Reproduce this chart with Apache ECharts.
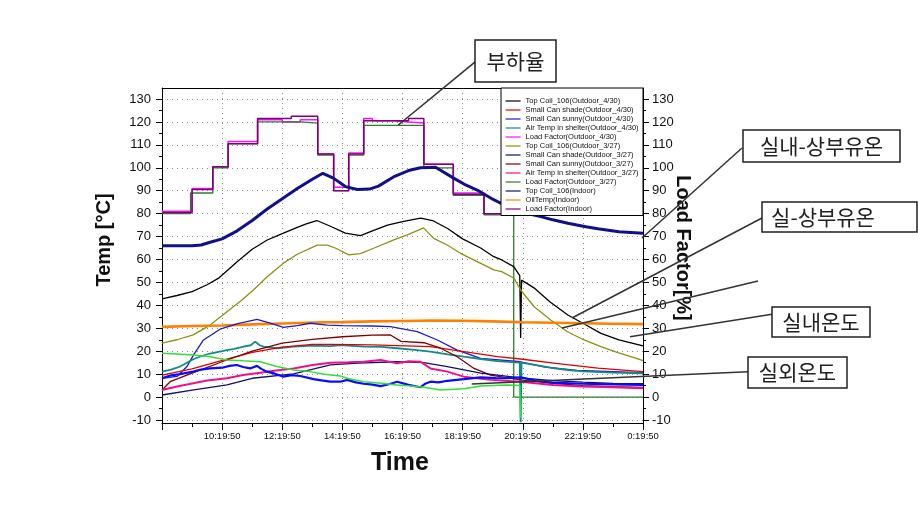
<!DOCTYPE html>
<html>
<head>
<meta charset="utf-8">
<script src="https://cdn.jsdelivr.net/npm/echarts@6/dist/echarts.min.js"></script>
<style>html,body{margin:0;padding:0;background:#fff;}#c{width:918px;height:531px;}</style>
</head>
<body>
<div id="c"></div>
<script>
// ---- data: [hour after 8:19:50, value] ----
const xTickHours = [0, 2, 4, 6, 8, 10, 12, 14, 16];
const legendNames = [
  'Top Coil_106(Outdoor_4/30)', 'Small Can shade(Outdoor_4/30)', 'Small Can sunny(Outdoor_4/30)',
  'Air Temp in shelter(Outdoor_4/30)', 'Load Factor(Outdoor_4/30)', 'Top Coil_106(Outdoor_3/27)',
  'Small Can shade(Outdoor_3/27)', 'Small Can sunny(Outdoor_3/27)', 'Air Temp in shelter(Outdoor_3/27)',
  'Load Factor(Outdoor_3/27)', 'Top Coil_106(Indoor)', 'OilTemp(Indoor)', 'Load Factor(Indoor)'
];
const loadFactor430 = [[0,81],[1.0,91],[1.69,100.5],[2.2,111.5],[3.18,121],[4.0,120],[4.6,121],[5.18,106],[5.71,91.5],[6.21,106.5],[6.71,121.5],[7.0,120.5],[7.7,120],[8.2,119.5],[8.71,101.5],[9.69,89],[10.71,80],[11.6,80]];
const loadFactor327 = [[0,80],[0.95,89],[1.69,100],[2.2,110.5],[3.18,120],[4.6,119.5],[5.18,105.5],[5.71,90],[6.21,105.5],[6.71,118.5],[8.71,100],[9.69,88],[10.71,79.5],[11.7,0],[16,0]];
const loadFactorIndoor = [[0,80.5],[1.0,90.5],[1.69,100.5],[2.2,110.5],[3.18,121.5],[4.3,122.5],[5.18,106],[5.71,90],[6.21,106],[6.71,120.5],[8.2,121.5],[8.71,101.5],[9.69,88.5],[10.71,80],[11.6,80]];
const topCoilIndoor = [[0,66],[0.5,66],[1,66],[1.3,66.3],[1.6,67.5],[2,69],[2.5,72.5],[3,77],[3.5,82],[4,86.5],[4.5,91],[5,95],[5.35,97.6],[5.7,95.5],[6.1,91.8],[6.5,90.5],[6.9,90.7],[7.2,92],[7.7,96],[8.2,98.8],[8.6,100],[9.1,100.2],[9.7,95.5],[10.1,92.5],[10.5,90.2],[11,86.3],[11.5,83],[12,80.5],[12.6,78.7],[13,77.3],[13.5,75.8],[14.1,74.3],[14.5,73.4],[15.2,72.1],[15.6,71.8],[16,71.4]];
const topCoil430 = [[0,42.8],[0.5,44.3],[1,46],[1.5,49],[1.9,52],[2.5,59],[3,64.5],[3.5,68.5],[4,71.3],[4.5,74],[4.8,75.5],[5.15,77],[5.6,74.5],[6.1,71.5],[6.6,70.4],[7,72.5],[7.5,75],[8,76.5],[8.6,78],[9,77],[9.5,73.5],[10,69],[10.6,65],[11,61.5],[11.3,59.8],[11.7,56.9],[11.9,53],[11.93,25.8],[11.96,51],[12.4,47.4],[12.9,41.6],[13.5,35.8],[14,32.2],[14.6,27.8],[15.2,24.9],[15.6,23.6],[16,22.3]];
const topCoil327 = [[0,23.5],[0.5,25],[1.04,27.1],[1.6,31.4],[2.16,37.2],[2.66,42.3],[3.04,46.7],[3.5,52.5],[4.04,58.4],[4.5,62.3],[5.16,66.3],[5.5,66.3],[5.8,64.8],[6.21,62],[6.6,62.6],[7.04,64.9],[7.71,68.6],[8.2,71],[8.7,73.8],[9.04,69.2],[9.5,66.2],[9.93,62.7],[10.5,59],[11.04,55.5],[11.3,54.7],[11.71,51.8],[11.93,46.7],[12.38,39.4],[12.93,33.6],[13.49,28.5],[14.04,24.9],[14.6,22],[15.16,19.4],[15.6,17.6],[16,15.9]];
const oilTempIndoor = [[0,30.6],[1,31],[2,31.2],[3,31.7],[4,32.1],[5,32.5],[6,32.7],[7,33],[8,33.2],[9,33.4],[10,33.3],[11,33],[12,32.6],[13,32.4],[14,32.2],[15,32],[16,31.8]];
const smallCanSunny430 = [[0,8.2],[0.5,9],[0.83,13.3],[1.05,18.4],[1.38,24.9],[1.93,29.6],[2.49,31.9],[3.16,33.9],[3.6,32.2],[4.04,30.4],[4.5,31.2],[4.93,32.2],[5.5,31.4],[6,31.2],[7,31],[7.6,30.7],[8.49,28.5],[9.16,24.9],[9.82,20.5],[10.6,16.9],[11.93,15.4],[12.7,13.2],[13.8,11.6],[16,10.6]];
const airTemp430 = [[0,11.1],[0.3,12],[0.6,13.3],[1.04,16.5],[1.3,17.8],[1.6,19],[2.16,20.5],[2.4,21],[2.71,22],[2.95,22.6],[3.1,24.2],[3.25,22.6],[3.38,22],[3.82,21.3],[4.38,22],[5,22.4],[5.6,22.2],[5.93,22.7],[6.71,22],[7.3,21.9],[7.82,21.3],[8.4,20.6],[8.93,19.8],[9.5,18.6],[10.04,17.6],[10.6,16.6],[11.16,15.7],[11.9,15],[11.93,-11],[11.96,15],[12.5,13.8],[13,12.6],[13.5,11.8],[14,11.2],[15,10.7],[16,10.4]];
const smallCanShade430 = [[0,9.6],[1,12.3],[2,16],[3,19.5],[4,21.8],[5,23],[5.6,23],[7,22.8],[8.93,22],[10.04,19.8],[11.16,17.6],[11.93,16.6],[13.1,14.7],[14.5,12.6],[16,11.1]];
const smallCanSunny327 = [[0,3.1],[0.27,6.7],[1,10.4],[2,15.4],[3,20],[4,23.5],[5,25.2],[6,26.3],[7,27],[7.6,27.1],[7.95,24.3],[8.71,23.7],[9.27,21.3],[9.82,17.6],[10.38,12.5],[10.93,9.6],[11.93,7.5],[13,6],[14,5],[15,4.5],[16,4.2]];
const smallCanShade327 = [[0,0.9],[1,3],[2.16,5.3],[3,8.2],[4.38,10.1],[5.6,14],[6.5,14.8],[7.82,15.4],[8.71,15],[9.49,13.3],[10.6,10.4],[11.93,8.4],[13,7.2],[14,6.5],[15,6],[16,5.8]];
const airTemp327 = [[0,3.1],[0.5,4.6],[1.04,6],[1.5,7.2],[2.16,8.2],[2.7,9.6],[3.27,10.6],[3.8,11.6],[4.38,12.5],[5,14],[5.6,15],[6.2,15.2],[6.71,15.4],[7.27,16.2],[7.82,14.7],[8.2,15.6],[8.6,15.4],[8.93,12.5],[9.49,11.1],[10.04,8.9],[10.93,7.5],[11.93,6.7],[13,5.3],[14,4.6],[15,4.3],[16,3.9]];
const smallCanIndoor = [[0,8.2],[0.3,9.5],[0.6,10],[1.04,11.1],[1.3,12],[1.6,12.5],[2,12.8],[2.25,13.6],[2.49,14],[2.7,13.1],[2.93,12.5],[3.16,13.6],[3.3,12.3],[3.49,11.1],[3.75,10.2],[4.04,8.9],[4.3,9.6],[4.6,9.2],[5.04,7.8],[5.3,7.3],[5.6,6.7],[5.93,6.7],[6.16,7.5],[6.45,6.4],[6.71,5.8],[7,5.4],[7.27,4.8],[7.55,5.6],[7.82,6.7],[8.2,5.3],[8.6,4.3],[8.75,5.8],[8.93,6.7],[9.2,6.4],[9.49,7.1],[10.04,7.8],[10.6,8.6],[11.1,8.3],[11.49,8.2],[11.93,8.6],[12.5,7],[13,6.3],[14,5.8],[15,5.5],[16,5.3]];
const airTempIndoor = [[0,19.1],[0.5,18.8],[1.04,18.4],[1.6,17.6],[2.16,16.2],[2.7,15.8],[3.27,15.4],[3.82,13.3],[4.38,11.8],[4.93,11.1],[5.4,10],[5.93,9.2],[6.16,8.2],[6.71,6.7],[7.3,6],[7.82,5.3],[8.3,4.8],[8.71,4.3],[9.27,3.1],[10.04,3.6],[10.6,4.8],[11.49,5.3],[11.9,5],[11.93,-9]];

const FONT = '"Liberation Sans", Arial, sans-serif';
const KFONT = '"Noto Sans CJK KR", sans-serif';

function line(name, data, color, width, extra) {
  return Object.assign({
    name: name, type: 'line', data: data, xAxisIndex: 2, yAxisIndex: 2,
    symbol: 'none', clip: false, animation: false,
    lineStyle: { color: color, width: width }, itemStyle: { color: color }
  }, extra || {});
}

const series = [
  line(legendNames[4], loadFactor430, '#ff10ff', 1.5, { step: 'end', yAxisIndex: 3 }),
  line(legendNames[9], loadFactor327, '#2e7d2e', 1.3, { step: 'end', yAxisIndex: 3 }),
  line(legendNames[12], loadFactorIndoor, '#800080', 1.5, { step: 'end', yAxisIndex: 3 }),
  line(legendNames[10], topCoilIndoor, '#10108c', 3),
  line(legendNames[0], topCoil430, '#000000', 1.3),
  line(legendNames[5], topCoil327, '#8f8f14', 1.3),
  line(legendNames[11], oilTempIndoor, '#ff8000', 2.6),
  line(legendNames[2], smallCanSunny430, '#1c1cc4', 1.3),
  line(legendNames[3], airTemp430, '#138a8a', 1.8),
  line(legendNames[1], smallCanShade430, '#e00000', 1.3),
  line(legendNames[7], smallCanSunny327, '#800000', 1.3),
  line(legendNames[6], smallCanShade327, '#10106e', 1.3),
  line(legendNames[8], airTemp327, '#f0108a', 2),
  line('Small Can(Indoor)', smallCanIndoor, '#0a0aff', 2.2),
  line('Air Temp(Indoor)', airTempIndoor, '#33e033', 1.5)
];

const dotted = { show: true, lineStyle: { color: '#8a8a8a', width: 1, type: [1, 4] } };

const option = {
  animation: false,
  backgroundColor: '#ffffff',
  grid: [
    { left: 162, right: 275, top: 88, bottom: 108 },
    { left: 162, right: 275, top: 99, bottom: 111 }
  ],
  xAxis: [
    { gridIndex: 0, type: 'value', min: 0, max: 16, interval: 2, position: 'bottom',
      axisLine: { show: true, onZero: false, lineStyle: { color: '#000', width: 1 } },
      axisTick: { show: true, length: 7, lineStyle: { color: '#000' } },
      minorTick: { show: true, splitNumber: 2, length: 4, lineStyle: { color: '#000' } },
      axisLabel: { showMinLabel: false, fontSize: 9.5, color: '#111', fontFamily: FONT, margin: 8,
        formatter: function (v) { return ((8 + v) % 24) + ':19:50'; } },
      splitLine: dotted },
    { gridIndex: 0, type: 'value', min: 0, max: 16, position: 'top',
      axisLine: { show: true, onZero: false, lineStyle: { color: '#000', width: 1 } },
      axisTick: { show: false }, axisLabel: { show: false }, splitLine: { show: false } },
    { gridIndex: 1, type: 'value', min: 0, max: 16, show: false }
  ],
  yAxis: [
    { gridIndex: 0, type: 'value', min: 0, max: 1, position: 'left',
      axisLine: { show: true, onZero: false, lineStyle: { color: '#000', width: 1 } },
      axisTick: { show: false }, axisLabel: { show: false }, splitLine: { show: false } },
    { gridIndex: 0, type: 'value', min: 0, max: 1, position: 'right',
      axisLine: { show: true, onZero: false, lineStyle: { color: '#000', width: 1 } },
      axisTick: { show: false }, axisLabel: { show: false }, splitLine: { show: false } },
    { gridIndex: 1, type: 'value', min: -10, max: 130, interval: 10, position: 'left',
      axisLine: { show: false },
      axisTick: { show: true, length: 6, lineStyle: { color: '#000' } },
      minorTick: { show: true, splitNumber: 2, length: 3, lineStyle: { color: '#000' } },
      axisLabel: { fontSize: 13, color: '#111', fontFamily: FONT, margin: 11 },
      splitLine: dotted },
    { gridIndex: 1, type: 'value', min: -10, max: 130, interval: 10, position: 'right',
      axisLine: { show: false },
      axisTick: { show: true, length: 6, lineStyle: { color: '#000' } },
      minorTick: { show: true, splitNumber: 2, length: 3, lineStyle: { color: '#000' } },
      axisLabel: { fontSize: 13, color: '#111', fontFamily: FONT, margin: 9 },
      splitLine: { show: false } }
  ],
  legend: {
    data: legendNames, orient: 'vertical', left: 505, top: 96.5, padding: 0, itemGap: 0,
    itemWidth: 15, itemHeight: 9, selectedMode: false, z: 6,
    itemStyle: { opacity: 0 },
    lineStyle: { width: 1.2 },
    textStyle: { fontSize: 7.5, lineHeight: 9, color: '#111', fontFamily: FONT }
  },
  graphic: [
    { type: 'rect', z: 5, shape: { x: 501, y: 88, width: 142, height: 127.5 },
      style: { fill: '#fff', stroke: '#000', lineWidth: 1 } },
    // axis titles
    { type: 'text', z: 10, x: 104, y: 240, rotation: Math.PI / 2,
      style: { text: 'Temp [°C]', align: 'center', verticalAlign: 'middle', fill: '#111',
        font: 'bold 20px ' + FONT } },
    { type: 'text', z: 10, x: 683, y: 248, rotation: -Math.PI / 2,
      style: { text: 'Load Factor[%]', align: 'center', verticalAlign: 'middle', fill: '#111',
        font: 'bold 20px ' + FONT } },
    { type: 'text', z: 10, x: 400, y: 463,
      style: { text: 'Time', align: 'center', verticalAlign: 'middle', fill: '#111',
        font: 'bold 25px ' + FONT } },
    // annotations
    { type: 'line', z: 10, shape: { x1: 476.7, y1: 60.7, x2: 398.3, y2: 125 }, style: { stroke: '#333', lineWidth: 1.6 } },
    { type: 'rect', z: 10, shape: { x: 475, y: 40, width: 81, height: 42 }, style: { fill: '#fff', stroke: '#222', lineWidth: 1.5 } },
    { type: 'text', z: 11, x: 515.5, y: 61, style: { text: '부하율', align: 'center', verticalAlign: 'middle', fill: '#222', font: '21px ' + KFONT } },

    { type: 'line', z: 10, shape: { x1: 742, y1: 148, x2: 642, y2: 238 }, style: { stroke: '#333', lineWidth: 1.5 } },
    { type: 'rect', z: 10, shape: { x: 743, y: 130, width: 157, height: 32 }, style: { fill: '#fff', stroke: '#222', lineWidth: 1.5 } },
    { type: 'text', z: 11, x: 821.5, y: 146, style: { text: '실내-상부유온', align: 'center', verticalAlign: 'middle', fill: '#222', font: '21px ' + KFONT } },

    { type: 'line', z: 10, shape: { x1: 762, y1: 218, x2: 572, y2: 318 }, style: { stroke: '#333', lineWidth: 1.5 } },
    { type: 'rect', z: 10, shape: { x: 762, y: 202, width: 155, height: 30 }, style: { fill: '#fff', stroke: '#222', lineWidth: 1.5 } },
    { type: 'text', z: 11, x: 823, y: 217, style: { text: '실-상부유온', align: 'center', verticalAlign: 'middle', fill: '#222', font: '21px ' + KFONT } },

    { type: 'line', z: 10, shape: { x1: 758, y1: 281, x2: 562, y2: 328 }, style: { stroke: '#333', lineWidth: 1.5 } },

    { type: 'line', z: 10, shape: { x1: 772, y1: 314.3, x2: 630, y2: 336.7 }, style: { stroke: '#333', lineWidth: 1.5 } },
    { type: 'rect', z: 10, shape: { x: 772, y: 307, width: 98, height: 30 }, style: { fill: '#fff', stroke: '#222', lineWidth: 1.5 } },
    { type: 'text', z: 11, x: 821, y: 322, style: { text: '실내온도', align: 'center', verticalAlign: 'middle', fill: '#222', font: '21px ' + KFONT } },

    { type: 'line', z: 10, shape: { x1: 748, y1: 371.7, x2: 471.7, y2: 384 }, style: { stroke: '#333', lineWidth: 1.6 } },
    { type: 'rect', z: 10, shape: { x: 748, y: 357, width: 99, height: 31 }, style: { fill: '#fff', stroke: '#222', lineWidth: 1.5 } },
    { type: 'text', z: 11, x: 797.5, y: 372.5, style: { text: '실외온도', align: 'center', verticalAlign: 'middle', fill: '#222', font: '21px ' + KFONT } }
  ],
  series: series
};

const chart = echarts.init(document.getElementById('c'), null, { renderer: 'canvas' });
chart.setOption(option);
</script>
</body>
</html>
